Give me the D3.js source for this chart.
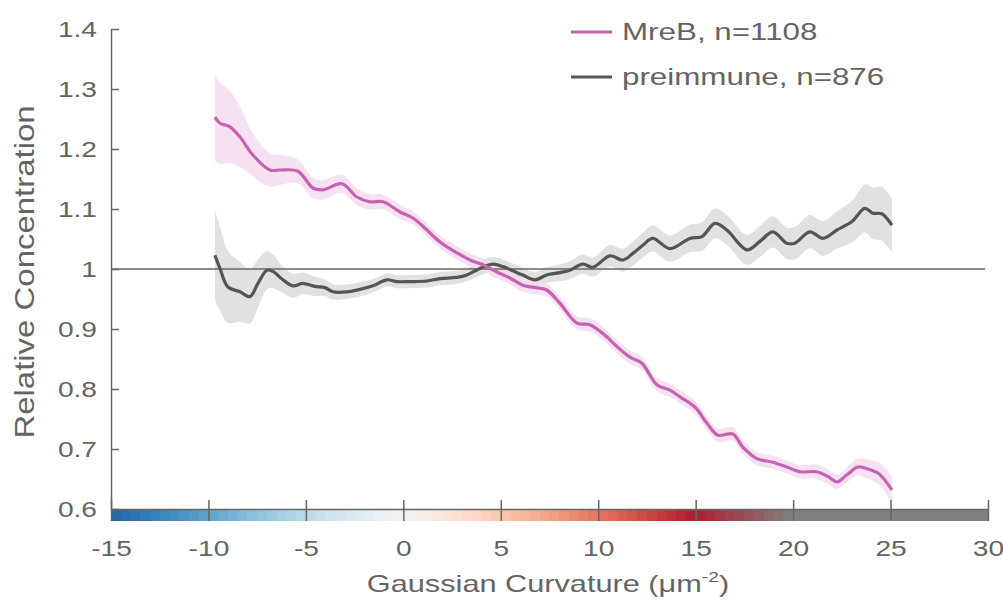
<!DOCTYPE html>
<html lang="en">
  <head>
    <meta charset="utf-8">
    <title>MreB relative concentration vs Gaussian curvature</title>
    <script src="https://d3js.org/d3.v7.min.js"></script>
    <style>
      body { margin: 0; background: #fff; }
      text { font-family: "Liberation Sans", Arial, sans-serif; fill: #646464; }
    </style>
  </head>
  <body>
    <div id="chart"></div>
    <script>
      // values
      var mreX = [-9.67,-9.41,-8.9,-8.38,-7.72,-6.85,-6.33,-5.41,-4.64,-4.12,-3.15,-2.38,-1.71,-1.04,-0.17,0.49,1.21,1.88,2.75,3.42,
                  4.09,4.8,5.47,6.13,7.0,7.36,8.03,8.9,9.57,10.44,10.75,11.63,12.24,13.01,13.68,14.19,14.96,15.58,16.14,16.91,
                  17.42,18.14,18.96,19.68,20.35,21.22,21.89,22.25,22.76,23.33,23.79,24.35,24.71,25.07];
      var mreY = [1.253,1.243,1.237,1.22,1.19,1.165,1.165,1.163,1.135,1.132,1.142,1.12,1.112,1.112,1.095,1.085,1.065,1.045,1.027,1.015,
                  1.007,0.995,0.985,0.973,0.968,0.965,0.943,0.91,0.907,0.887,0.877,0.853,0.843,0.807,0.798,0.787,0.77,0.743,0.723,0.725,
                  0.703,0.684,0.678,0.67,0.662,0.662,0.652,0.645,0.657,0.67,0.667,0.66,0.648,0.632];
      var mreErr = [0.072,0.068,0.06,0.05,0.036,0.028,0.025,0.02,0.017,0.016,0.015,0.014,0.013,0.012,0.012,0.011,0.011,0.011,0.011,0.011,
                    0.011,0.011,0.011,0.011,0.011,0.011,0.011,0.011,0.011,0.011,0.011,0.011,0.011,0.011,0.011,0.011,0.011,0.011,0.011,0.011,
                    0.011,0.011,0.011,0.011,0.011,0.012,0.012,0.012,0.012,0.014,0.016,0.018,0.02,0.022];

      var preX = [-9.67,-9.41,-9.0,-8.38,-7.87,-7.46,-7.0,-6.69,-6.18,-5.66,-5.15,-4.54,-4.02,-3.61,-2.89,-2.23,-1.56,-0.84,-0.33,0.34,
                  1.21,1.88,2.75,3.26,3.93,4.6,5.11,5.62,6.13,6.75,7.36,8.03,8.55,9.21,9.73,10.6,11.27,11.78,12.3,12.8,
                  13.68,14.7,15.32,15.99,16.6,17.63,18.3,18.96,19.68,20.09,20.86,21.53,22.25,23.02,23.68,24.09,24.55,25.07];
      var preY = [1.023,1.001,0.97,0.962,0.954,0.976,0.998,0.996,0.982,0.972,0.976,0.971,0.969,0.962,0.962,0.966,0.972,0.982,0.979,0.979,
                  0.98,0.984,0.986,0.99,1.001,1.008,1.004,0.997,0.99,0.982,0.99,0.994,0.998,1.008,1.003,1.022,1.015,1.026,1.04,1.051,
                  1.034,1.051,1.054,1.076,1.065,1.032,1.046,1.062,1.043,1.043,1.062,1.051,1.065,1.079,1.101,1.093,1.092,1.073];
      var preErr = [0.075,0.07,0.06,0.05,0.045,0.04,0.032,0.028,0.022,0.02,0.018,0.016,0.014,0.013,0.012,0.012,0.011,0.011,0.011,0.011,
                    0.011,0.011,0.011,0.011,0.012,0.012,0.012,0.012,0.012,0.013,0.013,0.014,0.015,0.016,0.016,0.018,0.019,0.02,0.021,0.022,
                    0.022,0.023,0.024,0.025,0.025,0.025,0.026,0.026,0.026,0.027,0.028,0.029,0.031,0.035,0.04,0.043,0.045,0.045];

      var yTicks = [0.6,0.7,0.8,0.9,1,1.1,1.2,1.3,1.4];
      var xTicks = [-15,-10,-5,0,5,10,15,20,25,30];
      var seriesNames = ["MreB, n=1108", "preimmune, n=876"];
      var seriesColors = ["#c663b0", "#555555"];
      var bandColors = ["#f3dcef", "#dcdcdc"];

      var W = 1003, H = 600, k = 1.28;   // k: the figure's text is wide
      var x = d3.scaleLinear().domain([-15, 30]).range([111, 988]);
      var y = d3.scaleLinear().domain([0.6, 1.4]).range([509, 29]);
      var plain = function (d) { return String(d); };   // hyphen minus like the original

      var svg = d3.select("#chart").append("svg").attr("width", W).attr("height", H);

      var series = [
        { x: mreX, y: mreY, e: mreErr },
        { x: preX, y: preY, e: preErr }
      ].map(function (s) {
        return s.x.map(function (v, i) { return { x: v, y: s.y[i], e: s.e[i] }; });
      });

      var area = d3.area().curve(d3.curveCatmullRom)
        .x(function (d) { return x(d.x); })
        .y0(function (d) { return y(d.y - d.e); })
        .y1(function (d) { return y(d.y + d.e); });
      var line = d3.line().curve(d3.curveCatmullRom)
        .x(function (d) { return x(d.x); })
        .y(function (d) { return y(d.y); });

      // bands (preimmune below MreB)
      [1, 0].forEach(function (i) {
        svg.append("path").attr("d", area(series[i]))
          .attr("fill", bandColors[i]).attr("opacity", 0.85);
      });

      // reference line at 1
      svg.append("line")
        .attr("x1", x(-15)).attr("x2", x(29.85))
        .attr("y1", y(1)).attr("y2", y(1))
        .attr("stroke", "#666").attr("stroke-width", 1.6);

      [1, 0].forEach(function (i) {
        svg.append("path").attr("d", line(series[i]))
          .attr("fill", "none").attr("stroke", seriesColors[i])
          .attr("stroke-width", 3.2).attr("stroke-linejoin", "round");
      });

      // colour bar along the x axis
      var blocks = d3.range(-15, 30, 0.5);
      var red = d3.interpolateRdBu(0.1);
      function barColor(v) {
        if (v < 15) return d3.interpolateRdBu(0.5 - (v / 15) * 0.4);
        if (v < 20) return d3.interpolateRgb(red, "#808080")((v - 15) / 5);
        return "#808080";
      }
      svg.selectAll("rect.cb").data(blocks).enter().append("rect")
        .attr("class", "cb")
        .attr("x", function (d) { return x(d); })
        .attr("width", x(0.5) - x(0) + 0.6)
        .attr("y", 509).attr("height", 12)
        .attr("shape-rendering", "crispEdges")
        .attr("fill", function (d) { return barColor(d + 0.25); });
      svg.append("line")
        .attr("x1", x(-15)).attr("x2", x(30)).attr("y1", 509.5).attr("y2", 509.5)
        .attr("stroke", "#666").attr("stroke-width", 1.5);

      // x axis: ticks cross the colour bar, labels below it
      var xAxis = svg.append("g").attr("transform", "translate(0,521)")
        .call(d3.axisBottom(x).tickValues(xTicks).tickFormat(plain)
          .tickSizeInner(-21).tickSizeOuter(0).tickPadding(19));
      xAxis.select(".domain").remove();
      xAxis.selectAll("line").attr("stroke", "#666").attr("stroke-width", 1.5);
      xAxis.selectAll("text").attr("font-size", 22).attr("fill", "#646464")
        .attr("font-family", null).attr("transform", "scale(" + k + ",1)");

      // y axis: inward ticks
      var yAxis = svg.append("g").attr("transform", "translate(111,0)")
        .call(d3.axisLeft(y).tickValues(yTicks).tickFormat(plain)
          .tickSizeInner(-8).tickSizeOuter(0).tickPadding(14));
      yAxis.select(".domain").attr("stroke", "#666").attr("stroke-width", 1.5);
      yAxis.selectAll("line").attr("stroke", "#666").attr("stroke-width", 1.5);
      yAxis.selectAll("text").attr("font-size", 22).attr("fill", "#646464")
        .attr("font-family", null)
        .attr("x", -14 / k).attr("transform", "scale(" + k + ",1)");

      // axis titles
      svg.append("text")
        .attr("transform", "translate(34,272) rotate(-90) scale(1.22,1)")
        .attr("text-anchor", "middle").attr("font-size", 27)
        .text("Relative Concentration");

      var xt = svg.append("text")
        .attr("transform", "translate(548,592) scale(" + k + ",1)")
        .attr("text-anchor", "middle").attr("font-size", 24);
      xt.append("tspan").text("Gaussian Curvature (μm");
      xt.append("tspan").attr("dy", -10).attr("font-size", 15).text("-2");
      xt.append("tspan").attr("dy", 10).text(")");

      // legend
      var leg = svg.selectAll("g.leg").data(seriesNames).enter().append("g")
        .attr("class", "leg")
        .attr("transform", function (d, i) { return "translate(571," + (32 + i * 45) + ")"; });
      leg.append("line").attr("x1", 0).attr("x2", 41)
        .attr("stroke", function (d, i) { return seriesColors[i]; })
        .attr("stroke-width", 3);
      leg.append("text")
        .attr("transform", "translate(51,8) scale(" + k + ",1)")
        .attr("font-size", 24.5)
        .text(function (d) { return d; });
    </script>
  </body>
</html>
